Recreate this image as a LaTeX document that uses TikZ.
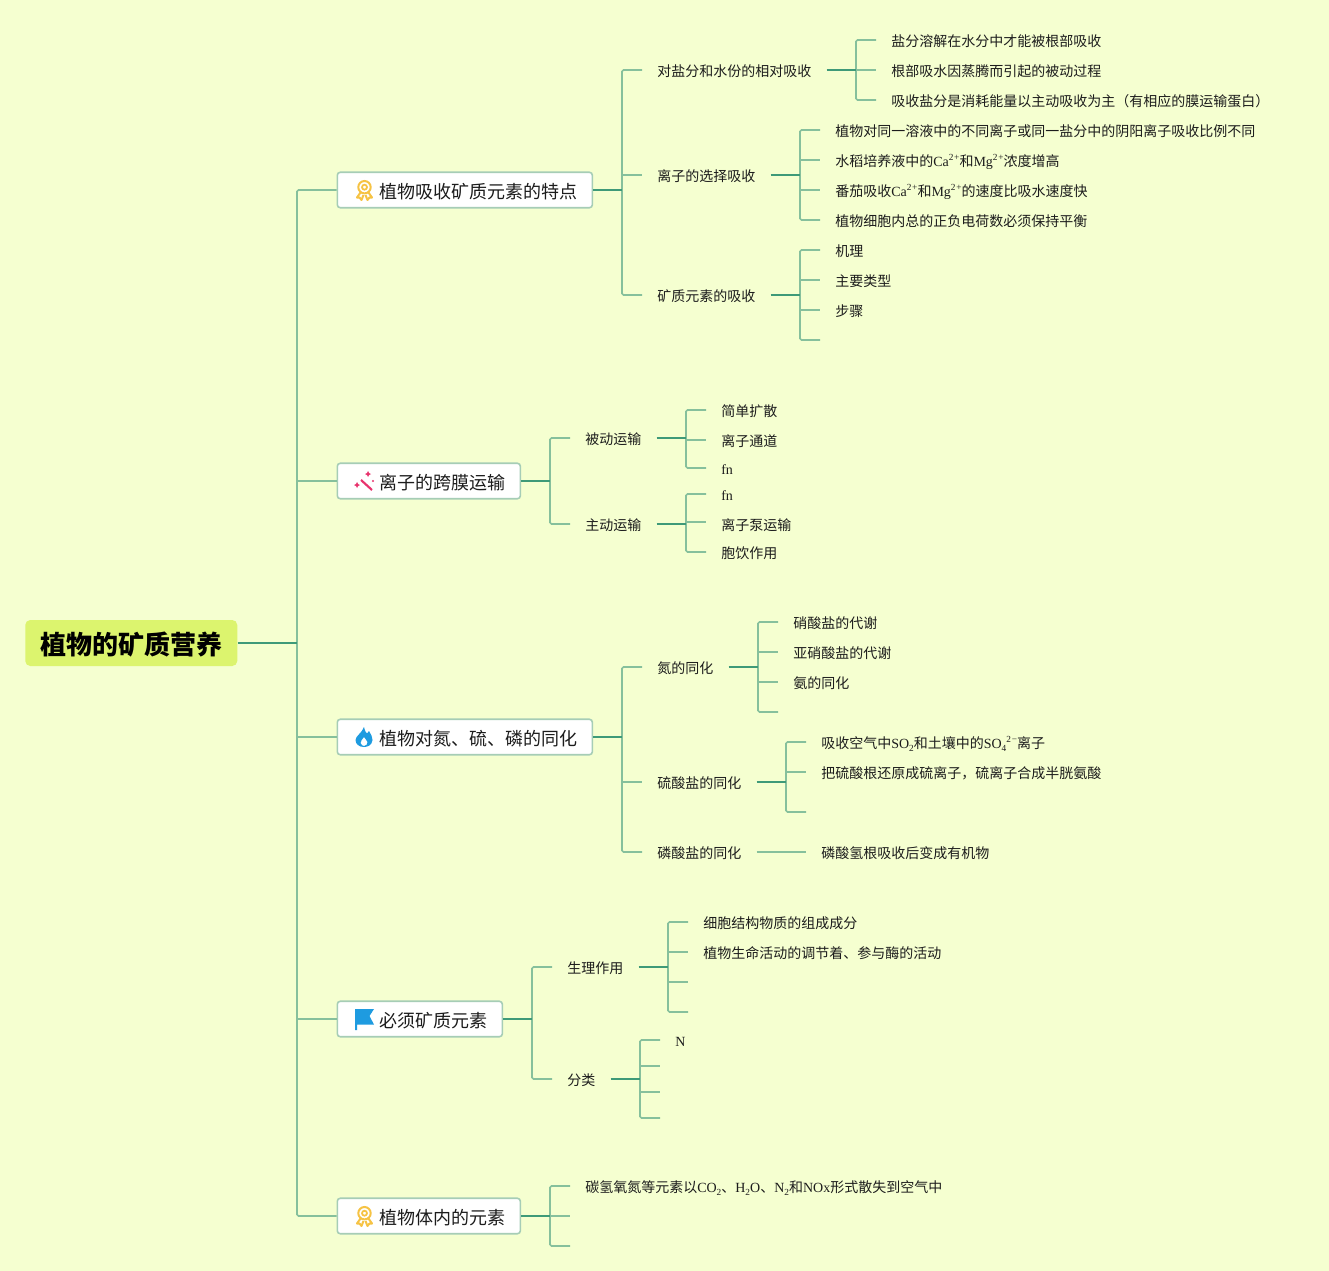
\documentclass[tikz,border=0pt]{standalone}
\usepackage{fontspec}
\setmainfont{Liberation Serif}
\newfontfamily\cjk{Noto Sans CJK SC}
\newcommand\lat[1]{{\rmfamily #1}}
\newcommand\subs[1]{\raisebox{-0.4ex}{\rmfamily\fontsize{7}{8}\selectfont\addfontfeature{LetterSpace=6} #1}}
\newcommand\sups[1]{\raisebox{0.7ex}{\rmfamily\fontsize{7}{8}\selectfont\addfontfeature{LetterSpace=8} #1}}
\definecolor{bgc}{HTML}{F5FFD0}
\definecolor{rootc}{HTML}{DCF46E}
\definecolor{stemc}{HTML}{3E9A78}
\definecolor{brc}{HTML}{86C09C}
\definecolor{boxc}{HTML}{A6CDB6}
\definecolor{txt}{HTML}{1C1C1C}
\definecolor{gold}{HTML}{F6C344}
\definecolor{pinkc}{HTML}{E8336D}
\definecolor{bluec}{HTML}{1E9BE0}
\tikzset{
  x=.75pt,y=-.75pt,
  lf/.style={anchor=west,inner xsep=11.25pt,inner ysep=0pt,text=txt,text height=9.5pt,text depth=0.2pt,font=\cjk\fontsize{10.5}{12}\selectfont},
  lfshift/.style={text height=12.3pt,text depth=0pt},
  sec/.style={anchor=west,rectangle,rounded corners=2.25pt,draw=boxc,line width=1.2pt,fill=white,inner xsep=0pt,inner ysep=0pt,minimum height=26.6pt,text=txt,text height=13pt,text depth=0pt,font=\cjk\fontsize{13.5}{15}\selectfont},
  rootn/.style={anchor=west,rectangle,rounded corners=3.75pt,fill=rootc,inner xsep=11.25pt,inner ysep=0pt,minimum height=34.5pt,text=black,text height=18pt,text depth=0.4pt,font=\cjk\bfseries\fontsize{19.5}{22}\selectfont},
  stem/.style={draw=stemc,line width=1.3pt},
  br/.style={draw=brc,line width=1.2pt,rounded corners=1.2pt},
  medal/.pic={
    \draw[gold,line width=1.5pt] (-.5,-2.8) circle (6.2);
    \draw[gold,line width=1.3pt] (-.5,-2.8) circle (2.5);
    \draw[gold,line width=1.5pt,line join=round] (-4.5,2.5) -- (-8,7.5) -- (-5.5,7.5) -- (-3.5,10) -- (-1.5,5);
    \draw[gold,line width=1.5pt,line join=round] (3.5,2.5) -- (7,7.5) -- (4.5,7.5) -- (2.5,10) -- (.5,5);
  },
  wand/.pic={
    \draw[pinkc,line width=1.6pt] (-4,-2) -- (7,8);
    \fill[pinkc] (3,-11) -- (4,-9) -- (6,-8) -- (4,-7) -- (3,-5) -- (2,-7) -- (0,-8) -- (2,-9) -- cycle;
    \fill[pinkc] (-8,0) -- (-7,2) -- (-5,3) -- (-7,4) -- (-8,6) -- (-9,4) -- (-11,3) -- (-9,2) -- cycle;
    \fill[pinkc] (8,-1) circle (1.2);
  },
  flame/.pic={
    \fill[bluec,even odd rule] (0,-10) .. controls (1,-6) and (2,-4) .. (3,-3.5) .. controls (4,-4) and (4.5,-5) .. (5,-6) .. controls (7,-3) and (8.5,0) .. (8.5,3) .. controls (8,8) and (4,10) .. (0,10) .. controls (-5,10) and (-8.5,7) .. (-8.5,3) .. controls (-8.5,-1) and (-2,-4) .. (0,-10) -- cycle
      (0,0) .. controls (-1,2) and (-4,4) .. (-3.5,6) .. controls (-3,8) and (-1,9) .. (0,9) .. controls (2,9) and (4,7) .. (3.5,5) .. controls (3,3) and (1,2) .. (0,0) -- cycle;
  },
  flagp/.pic={
    \fill[bluec] (-9.5,-10) -- (9.5,-10) -- (5,-3) -- (9.5,5.5) -- (-7.5,5.5) -- (-7.5,11) -- (-9.5,11) -- cycle;
  },
}
\newcommand\hub[5]{% parent, spine, first, last, middles
  \draw[br] (#3) -| (#2) |- (#4);
  \foreach \k in {#5} { \draw[br] (#2 |- \k) -- (\k); }
  \draw[stem] (#1.east) -- (#2);
}
\begin{document}
\begin{tikzpicture}
\path[fill=bgc,use as bounding box] (0,0) rectangle (1329,1271);
% root and sections
\node[rootn] (root) at (25,643) {植物的矿质营养};
\newcommand\sectxt[1]{\hspace*{31.9pt}#1\hspace*{10.9pt}}
\node[sec] (b1) at (336.5,190) {\sectxt{植物吸收矿质元素的特点}};
\node[sec] (b2) at (336.5,481) {\sectxt{离子的跨膜运输}};
\node[sec] (b3) at (336.5,737) {\sectxt{植物对氮、硫、磷的同化}};
\node[sec] (b4) at (336.5,1019) {\sectxt{必须矿质元素}};
\node[sec] (b5) at (336.5,1216) {\sectxt{植物体内的元素}};
\pic at (365,190) {medal};
\pic at (365,482) {wand};
\pic at (364,737) {flame};
\pic at (364.5,1019) {flagp};
\pic at (365,1216) {medal};
\coordinate (s0) at (297,643);
\hub{root}{s0}{b1.west}{b5.west}{b2.west,b3.west,b4.west}
% section 1
\node[lf] (a1) at (642,70) {对盐分和水份的相对吸收};
\node[lf] (a2) at (642,175) {离子的选择吸收};
\node[lf] (a3) at (642,295) {矿质元素的吸收};
\coordinate (s1) at (622,190);
\hub{b1}{s1}{a1.west}{a3.west}{a2.west}
\node[lf] (a11) at (876,40) {盐分溶解在水分中才能被根部吸收};
\node[lf] (a12) at (876,70) {根部吸水因蒸腾而引起的被动过程};
\node[lf] (a13) at (876,100) {吸收盐分是消耗能量以主动吸收为主（有相应的膜运输蛋白）};
\coordinate (s11) at (856,70);
\hub{a1}{s11}{a11.west}{a13.west}{a12.west}
\node[lf] (a21) at (820,130) {植物对同一溶液中的不同离子或同一盐分中的阴阳离子吸收比例不同};
\node[lf] (a22) at (820,160) {水稻培养液中的\lat{Ca}\sups{2+}和\lat{Mg}\sups{2+}浓度增高};
\node[lf] (a23) at (820,190) {番茄吸收\lat{Ca}\sups{2+}和\lat{Mg}\sups{2+}的速度比吸水速度快};
\node[lf] (a24) at (820,220) {植物细胞内总的正负电荷数必须保持平衡};
\coordinate (s12) at (800,175);
\hub{a2}{s12}{a21.west}{a24.west}{a22.west,a23.west}
\node[lf] (a31) at (820,250) {机理};
\node[lf] (a32) at (820,280) {主要类型};
\node[lf] (a33) at (820,310) {步骤};
\coordinate (a34) at (820,340);
\coordinate (s13) at (800,295);
\hub{a3}{s13}{a31.west}{a34}{a32.west,a33.west}
% section 2
\node[lf] (c1) at (570,438) {被动运输};
\node[lf] (c2) at (570,524) {主动运输};
\coordinate (s2) at (550,481);
\hub{b2}{s2}{c1.west}{c2.west}{}
\node[lf] (c11) at (706,410) {简单扩散};
\node[lf] (c12) at (706,440) {离子通道};
\node[lf] (c13) at (706,468) {\lat{fn}};
\coordinate (s21) at (686,438);
\hub{c1}{s21}{c11.west}{c13.west}{c12.west}
\node[lf] (c21) at (706,494) {\lat{fn}};
\node[lf,lfshift] (c22) at (706,522) {离子泵运输};
\node[lf] (c23) at (706,552) {胞饮作用};
\coordinate (s22) at (686,524);
\hub{c2}{s22}{c21.west}{c23.west}{c22.west}
% section 3
\node[lf] (d1) at (642,667) {氮的同化};
\node[lf] (d2) at (642,782) {硫酸盐的同化};
\node[lf] (d3) at (642,852) {磷酸盐的同化};
\coordinate (s3) at (622,737);
\hub{b3}{s3}{d1.west}{d3.west}{d2.west}
\node[lf] (d11) at (778,622) {硝酸盐的代谢};
\node[lf] (d12) at (778,652) {亚硝酸盐的代谢};
\node[lf] (d13) at (778,682) {氨的同化};
\coordinate (d14) at (778,712);
\coordinate (s31) at (758,667);
\hub{d1}{s31}{d11.west}{d14}{d12.west,d13.west}
\node[lf] (d21) at (806,742) {吸收空气中\lat{SO}\subs{2}和土壤中的\lat{SO}\subs{4}\sups{2−}离子};
\node[lf] (d22) at (806,772) {把硫酸根还原成硫离子，硫离子合成半胱氨酸};
\coordinate (d23) at (806,812);
\coordinate (s32) at (786,782);
\hub{d2}{s32}{d21.west}{d23}{d22.west}
\node[lf] (d31) at (806,852) {磷酸氢根吸收后变成有机物};
\draw[br] (d3.east) -- (d31.west);
% section 4
\node[lf] (e1) at (552,967) {生理作用};
\node[lf] (e2) at (552,1079) {分类};
\coordinate (s4) at (532,1019);
\hub{b4}{s4}{e1.west}{e2.west}{}
\node[lf] (e11) at (688,922) {细胞结构物质的组成成分};
\node[lf] (e12) at (688,952) {植物生命活动的调节着、参与酶的活动};
\coordinate (e13) at (688,982);
\coordinate (e14) at (688,1012);
\coordinate (s41) at (668,967);
\hub{e1}{s41}{e11.west}{e14}{e12.west,e13}
\node[lf] (e21) at (660,1040) {\lat{N}};
\coordinate (e22) at (660,1066);
\coordinate (e23) at (660,1092);
\coordinate (e24) at (660,1118);
\coordinate (s42) at (640,1079);
\hub{e2}{s42}{e21.west}{e24}{e22,e23}
% section 5
\node[lf] (f1) at (570,1186) {碳氢氧氮等元素以\lat{CO}\subs{2}、\lat{H}\subs{2}\lat{O}、\lat{N}\subs{2}和\lat{NOx}形式散失到空气中};
\coordinate (f2) at (570,1216);
\coordinate (f3) at (570,1246);
\coordinate (s5) at (550,1216);
\hub{b5}{s5}{f1.west}{f3}{f2}
\end{tikzpicture}
\end{document}
